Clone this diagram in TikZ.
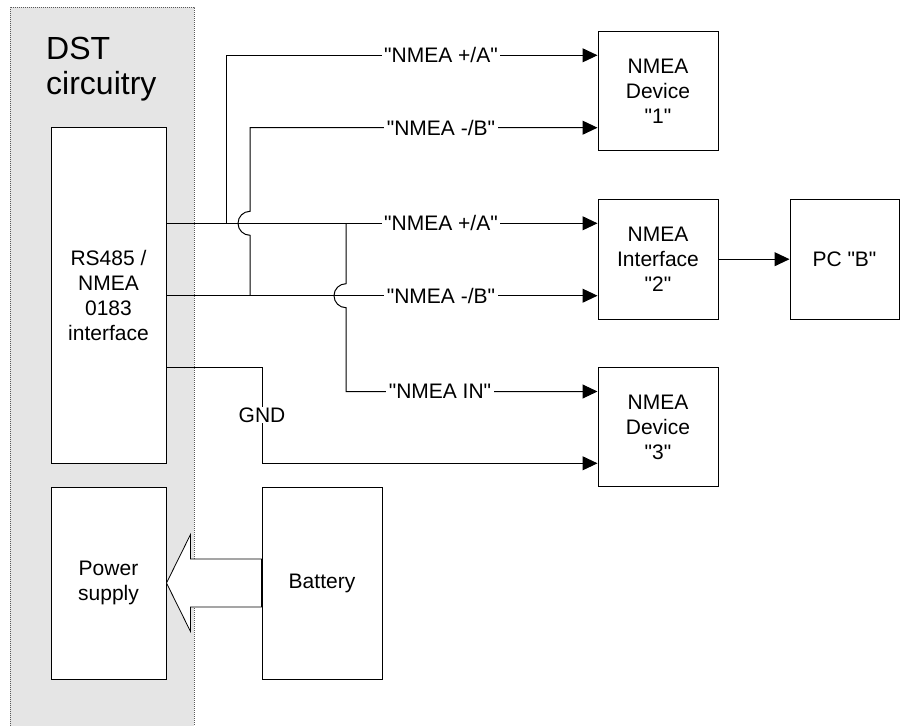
\documentclass[tikz,border=0pt]{standalone}
\usepackage{fontspec}
\setmainfont{Liberation Sans}
\usetikzlibrary{arrows.meta,calc}
\newcommand{\dqt}{\XeTeXglyph\numexpr\XeTeXcharglyph 34\relax\relax}
\begin{document}
\begin{tikzpicture}[x=1pt,y=-1pt,
  box/.style={draw,line width=1pt,fill=white,align=center,inner sep=0pt,font=\fontsize{21}{25}\selectfont},
  lbl/.style={fill=white,inner xsep=2.5pt,inner ysep=1pt,font=\fontsize{21}{25}\selectfont},
  wire/.style={line width=1pt},
  arr/.style={wire,-{Triangle[length=15pt,width=14pt]}},
]
\useasboundingbox (0,0) rectangle (900,726);
% DST panel
\fill[gray!20] (10,7) rectangle (194,726);
\draw[gray!70!black,line width=0.8pt,dash pattern=on 1pt off 1pt] (10,726) -- (10,7) -- (194,7) -- (194,726);
\node[anchor=north west,inner sep=0pt,align=left,font=\fontsize{32}{35}\selectfont] (dst) at (46,37) {DST\\circuitry};

% boxes
\node[box,minimum width=115pt,minimum height=336pt] (rs) at (108.5,295) {RS485 /\\NMEA\\0183\\interface};
\node[box,minimum width=115pt,minimum height=192pt] (ps) at (108.5,583) {Power\\supply};
\node[box,minimum width=120pt,minimum height=192pt] (bat) at (322,583) {Battery};
\node[box,minimum width=120pt,minimum height=119pt] (d1) at (658,91.3) {NMEA\\Device\\\dqt1\dqt};
\node[box,minimum width=120pt,minimum height=120pt] (if2) at (658,259.2) {NMEA\\Interface\\\dqt2\dqt};
\node[box,minimum width=109pt,minimum height=120pt] (pc) at (844.5,259.2) {PC \dqt B\dqt};
\node[box,minimum width=120pt,minimum height=119.4pt] (d3) at (658,427) {NMEA\\Device\\\dqt3\dqt};

% power arrow
\draw[line width=0.8pt,fill=white,line join=miter] (ps.east) -- ++(24,-48.5) -- ++(0,24.5)
  -- ($(bat.west)+(0,-24)$) -- ($(bat.west)+(0,24)$) -- ($(ps.east)+(24,24)$)
  -- ($(ps.east)+(24,48.5)$) -- cycle;

% junctions and corners
\coordinate (j1) at (226,223.3);
\coordinate (j2) at (250,295.7);
\coordinate (j3) at (346,223.3);
\coordinate (t1) at (226,55.3);
\coordinate (t2) at (250,127.7);
\coordinate (t3) at (346,391.5);
\coordinate (g1) at (262,367);
\coordinate (g2) at (262,463.3);

% wires
\draw[arr] (rs.east |- j1) -- (if2.west |- j1);
\draw[arr] (rs.east |- j2) -- (if2.west |- j2);
\draw[arr] (j1) -- (t1) -- (d1.west |- t1);
\draw[arr] (j2) -- ++(0,-60.4) arc[start angle=-90,end angle=-270,radius=12pt] -- (t2) -- (d1.west |- t2);
\draw[arr] (j3) -- ++(0,60.4) arc[start angle=90,end angle=270,radius=12pt] -- (t3) -- (d3.west |- t3);
\draw[arr] (rs.east |- g1) -- (g1) -- (g2) -- (d3.west |- g2);
\draw[arr] (if2.east) -- (pc.west);

% labels
\node[lbl] (l1) at (441,55.3) {\dqt NMEA +/A\dqt};
\node[lbl] (l2) at (441,127.7) {\dqt NMEA -/B\dqt};
\node[lbl] (l3) at (441,223.3) {\dqt NMEA +/A\dqt};
\node[lbl] (l4) at (441,295.7) {\dqt NMEA -/B\dqt};
\node[lbl] (l5) at (440,391.5) {\dqt NMEA IN\dqt};
\node[lbl] (gnd) at (262,415) {GND};
\end{tikzpicture}
\end{document}
